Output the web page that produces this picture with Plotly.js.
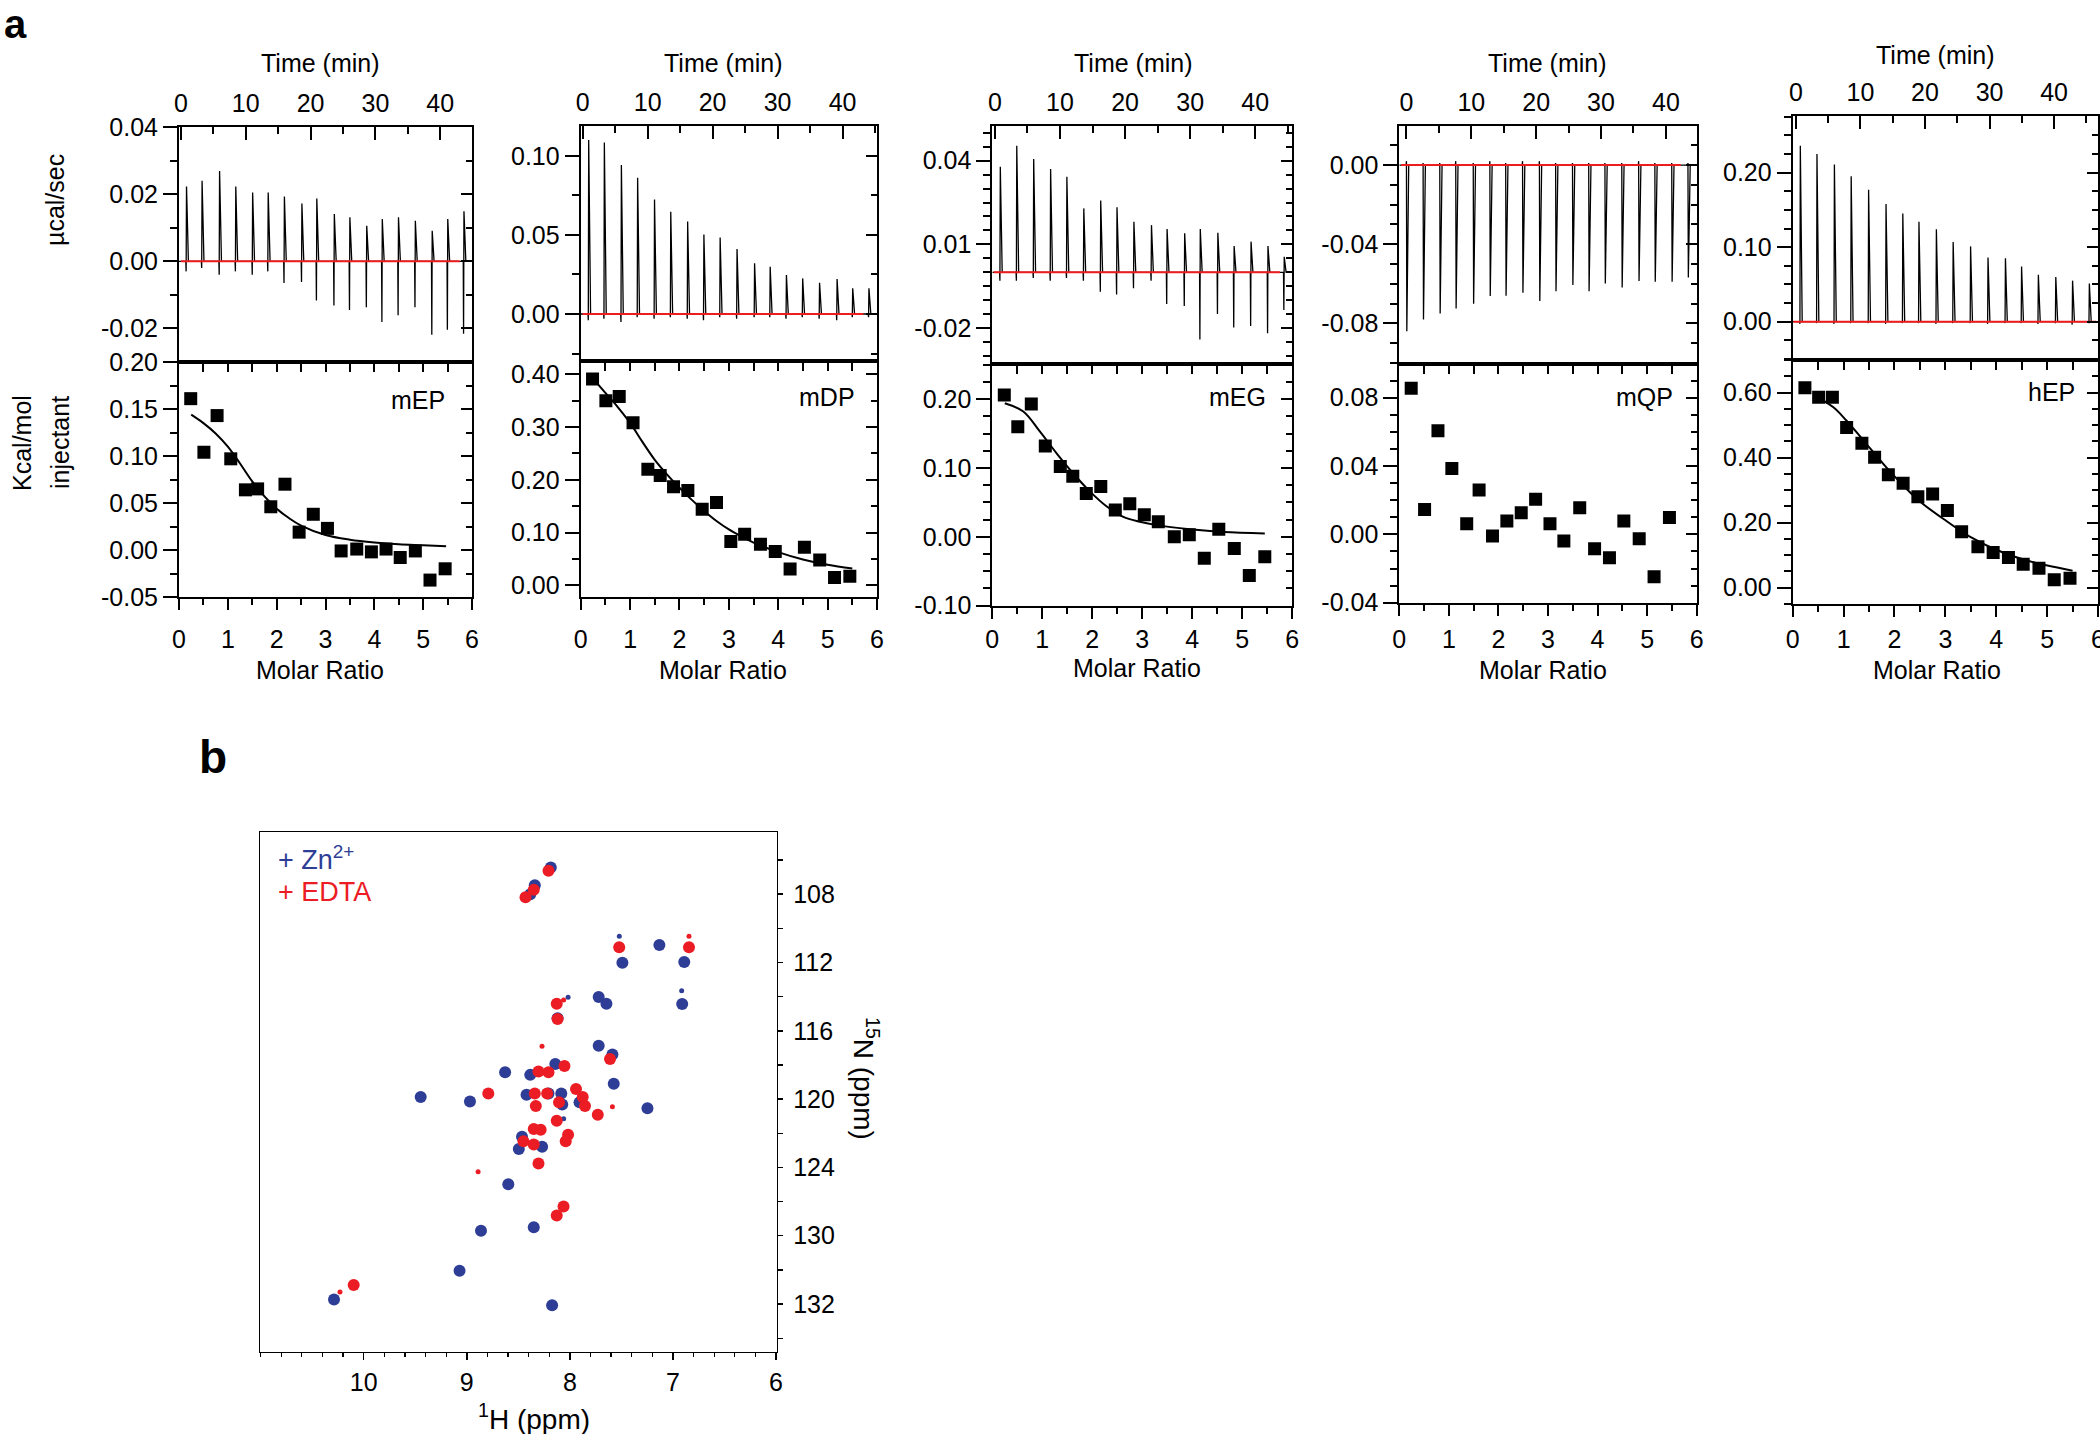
<!DOCTYPE html>
<html><head><meta charset="utf-8">
<script src="https://cdn.plot.ly/plotly-3.0.1.min.js"></script>
<style>html,body{margin:0;padding:0;background:#fff}#chart{width:2100px;height:1434px}</style>
</head><body><div id="chart"></div>
<script>
// ================= DATA =================
const molarRatio = [0.24,0.51,0.78,1.06,1.36,1.61,1.88,2.17,2.46,2.75,3.04,3.32,3.64,3.94,4.24,4.53,4.84,5.14,5.45];

// mEP
const mEP_time = [0.8,3.2,5.9,8.4,11.0,13.4,15.9,18.6,20.9,23.6,26.0,28.6,31.0,33.5,36.1,38.7,41.1,43.6];
const mEP_peak = [0.0223,0.0240,0.0269,0.0223,0.0205,0.0205,0.0193,0.0172,0.0187,0.0141,0.0131,0.0106,0.0126,0.0131,0.0121,0.0091,0.0126,0.0149];
const mEP_dip  = [-0.003,-0.002,-0.004,-0.003,-0.004,-0.003,-0.0065,-0.0062,-0.0117,-0.0132,-0.0145,-0.0137,-0.0181,-0.0161,-0.0137,-0.0219,-0.0204,-0.0216];
const mEP_base = [0, 43.0];
const mEP_heat = [0.161,0.104,0.143,0.097,0.064,0.065,0.046,0.070,0.019,0.038,0.023,-0.001,0.001,-0.002,0.001,-0.008,-0.001,-0.032,-0.020];
const mEP_fitX = [0.25,0.5,0.75,1.0,1.25,1.5,1.75,2.0,2.25,2.5,3.0,3.5,4.0,4.5,5.0,5.47];
const mEP_fitY = [0.144,0.135,0.124,0.110,0.092,0.073,0.057,0.044,0.034,0.026,0.016,0.011,0.008,0.006,0.005,0.004];

// mDP
const mDP_time = [0.87,3.28,5.9,8.4,11.0,13.5,16.1,18.6,21.1,23.7,26.4,28.8,31.3,33.8,36.4,39.1,41.5,44.0];
const mDP_peak = [0.1099,0.1084,0.0941,0.0861,0.0724,0.0646,0.0584,0.0503,0.0484,0.0411,0.032,0.0299,0.0246,0.0225,0.0198,0.0221,0.0162,0.0162];
const mDP_dip  = [-0.004,-0.003,-0.005,-0.002,-0.003,-0.002,-0.003,-0.004,-0.002,-0.003,-0.002,-0.002,-0.003,-0.002,-0.003,-0.004,-0.002,-0.002];
const mDP_base = [0, 43.2];
const mDP_heat = [0.391,0.350,0.358,0.308,0.220,0.208,0.187,0.180,0.144,0.157,0.083,0.097,0.078,0.064,0.031,0.072,0.048,0.015,0.017];
const mDP_fitX = [0.25,0.5,0.75,1.0,1.25,1.5,1.75,2.0,2.25,2.5,2.75,3.0,3.25,3.5,4.0,4.5,5.0,5.5];
const mDP_fitY = [0.392,0.365,0.338,0.308,0.272,0.238,0.210,0.185,0.162,0.141,0.122,0.106,0.093,0.081,0.063,0.049,0.039,0.032];

// mEG
const mEG_time = [0.77,3.3,5.9,8.5,11.0,13.6,16.2,18.7,21.3,24.0,26.4,29.1,31.5,34.2,36.7,39.3,41.9,44.4];
const mEG_peak = [0.0378,0.0453,0.0406,0.037,0.0342,0.0229,0.0257,0.0233,0.0181,0.0169,0.0155,0.014,0.0155,0.0142,0.0094,0.011,0.0094,0.0056];
const mEG_dip  = [-0.003,-0.003,-0.002,-0.003,-0.002,-0.003,-0.0069,-0.0079,-0.0057,-0.003,-0.0113,-0.012,-0.024,-0.0149,-0.0197,-0.0192,-0.0218,-0.0135];
const mEG_base = [-0.2, 43.8];
const mEG_heat = [0.206,0.160,0.193,0.132,0.102,0.088,0.063,0.073,0.039,0.048,0.032,0.022,0.000,0.003,-0.031,0.011,-0.017,-0.056,-0.029];
const mEG_fitX = [0.25,0.62,0.95,1.29,1.62,1.95,2.29,2.62,2.95,3.29,3.95,4.62,5.45];
const mEG_fitY = [0.194,0.182,0.153,0.121,0.092,0.066,0.044,0.029,0.022,0.017,0.011,0.007,0.005];

// mQP
const mQP_time = [0,2.57,5.14,7.6,10.3,12.86,15.3,17.9,20.5,23.0,25.6,28.1,30.6,33.2,35.8,38.3,40.9,43.4];
const mQP_peak = [-0.0839,-0.078,-0.075,-0.0724,-0.070,-0.0662,-0.066,-0.0645,-0.0687,-0.0637,-0.0606,-0.0637,-0.0598,-0.0618,-0.0586,-0.059,-0.059,-0.0568];
const mQP_dip  = [0.002,0.001,0.001,0.002,0.001,0.002,0.001,0.002,0.002,0.001,0.001,0.001,0.001,0.001,0.002,0.001,0.001,0.001];
const mQP_base = [-0.8, 42.3];
const mQP_heat = [0.0855,0.0146,0.0607,0.0386,0.0062,0.026,-0.001,0.0078,0.0127,0.0205,0.0062,-0.0039,0.0156,-0.0084,-0.0137,0.0078,-0.0025,-0.0248,0.0098];

// hEP
const hEP_time = [0.62,3.2,5.9,8.5,11.2,13.9,16.5,19.0,21.7,24.3,27.0,29.7,32.4,34.9,37.5,40.2,42.8,45.4];
const hEP_peak = [0.236,0.225,0.211,0.195,0.177,0.158,0.145,0.134,0.124,0.107,0.101,0.086,0.085,0.074,0.063,0.060,0.055,0.051];
const hEP_dip  = [-0.003,-0.002,-0.003,-0.002,-0.002,-0.003,-0.002,-0.002,-0.003,-0.002,-0.002,-0.003,-0.002,-0.002,-0.003,-0.002,-0.004,-0.002];
const hEP_base = [-0.4, 46.5];
const hEP_heat = [0.615,0.586,0.586,0.493,0.444,0.401,0.347,0.321,0.280,0.288,0.237,0.172,0.126,0.108,0.093,0.072,0.0595,0.024,0.029];
const hEP_fitX = [0.5,0.8,1.05,1.38,1.84,2.2,2.5,3.02,3.48,4.13,4.78,5.2,5.5];
const hEP_fitY = [0.585,0.555,0.515,0.455,0.37,0.31,0.265,0.205,0.157,0.108,0.076,0.062,0.052];

// tick labels
const timeTickVals = [0,10,20,30,40];
const timeTickText = ['0','10','20','30','40'];
const molarTickVals = [0,1,2,3,4,5,6];
const molarTickText = ['0','1','2','3','4','5','6'];
const mEP_topVals = [-0.02,0,0.02,0.04], mEP_topText = ['-0.02','0.00','0.02','0.04'];
const mDP_topVals = [0,0.05,0.10], mDP_topText = ['0.00','0.05','0.10'];
const mEG_topVals = [-0.02,0.01,0.04], mEG_topText = ['-0.02','0.01','0.04'];
const mQP_topVals = [-0.08,-0.04,0], mQP_topText = ['-0.08','-0.04','0.00'];
const hEP_topVals = [0,0.10,0.20], hEP_topText = ['0.00','0.10','0.20'];
const mEP_botVals = [-0.05,0,0.05,0.10,0.15,0.20], mEP_botText = ['-0.05','0.00','0.05','0.10','0.15','0.20'];
const mDP_botVals = [0,0.1,0.2,0.3,0.4], mDP_botText = ['0.00','0.10','0.20','0.30','0.40'];
const mEG_botVals = [-0.1,0,0.1,0.2], mEG_botText = ['-0.10','0.00','0.10','0.20'];
const mQP_botVals = [-0.04,0,0.04,0.08], mQP_botText = ['-0.04','0.00','0.04','0.08'];
const hEP_botVals = [0,0.2,0.4,0.6], hEP_botText = ['0.00','0.20','0.40','0.60'];

// NMR (b)
const blueH = [8.185,8.34,8.384,7.131,7.49,6.89,7.72,7.645,6.91,8.119,7.72,7.587,8.141,8.628,8.384,7.574,9.447,8.969,8.42,8.207,8.083,8.074,7.906,7.247,8.464,8.495,8.269,8.597,8.862,8.35,9.07,10.288,8.172];
const blueN = [106.44,107.48,108.0,110.98,112.02,111.97,114.02,114.41,114.43,115.26,116.87,117.39,117.94,118.43,118.58,119.1,119.88,120.14,119.75,119.67,119.67,120.32,120.19,120.53,122.21,122.92,122.79,124.99,127.71,127.5,130.05,131.73,132.07];
const blueSmallH = [6.915,8.14,8.06,8.017,7.52];
const blueSmallN = [113.65,121.1,121.15,114.04,110.46];
const redH = [8.207,8.35,8.43,7.521,6.844,8.127,8.119,7.61,8.052,8.207,8.304,8.791,8.34,8.22,7.94,7.875,7.853,8.105,8.33,7.729,8.127,8.35,8.283,8.017,8.04,8.45,8.35,8.304,8.061,8.127,10.097];
const redN = [106.63,107.74,108.18,111.11,111.11,114.41,115.31,117.65,118.06,118.43,118.38,119.67,119.67,119.67,119.41,119.88,120.4,120.19,120.4,120.92,121.27,121.75,121.8,122.09,122.47,122.47,122.66,123.77,126.29,126.81,130.88];
const redSmallH = [6.844,10.23,8.89,8.27,7.587,8.06];
const redSmallN = [110.46,131.3,124.26,116.9,120.45,114.2];
const hTickVals = [10,9,8,7,6], hTickText = ['10','9','8','7','6'];
const nTickVals = [108,112,116,120,124,128,132], nTickText = ['108','112','116','120','124','130','132'];

// ================= LAYOUT / DRAWING =================
const W = 2100, H = 1434;
const FONT = 'Liberation Sans, Arial, sans-serif';
const px = v => v / W, py = v => 1 - v / H;
function seq(a, b, s) { const o = []; for (let v = a; v <= b + 1e-9; v += s) o.push(+v.toFixed(6)); return o; }

const panels = [
  {name:'mEP', fx:[179,472], ty:[127,362], by:[362,597], tRange:[-0.3,44.9], topRange:[-0.030,0.040], botRange:[-0.05,0.20],
   topVals:mEP_topVals, topText:mEP_topText, topMinor:seq(-0.03,0.04,0.01), botVals:mEP_botVals, botText:mEP_botText, botMinor:seq(-0.05,0.2,0.025),
   time:mEP_time, peak:mEP_peak, dip:mEP_dip, base:mEP_base, heat:mEP_heat, fitX:mEP_fitX, fitY:mEP_fitY,
   timeTitle:[320,63], molarTitle:[320,670], label:[447,400]},
  {name:'mDP', fx:[580.7,877], ty:[125.7,361], by:[361,597.3], tRange:[-0.3,45.3], topRange:[-0.0297,0.119], botRange:[-0.0227,0.4253],
   topVals:mDP_topVals, topText:mDP_topText, topMinor:seq(-0.025,0.1,0.025), botVals:mDP_botVals, botText:mDP_botText, botMinor:seq(0,0.4,0.05),
   time:mDP_time, peak:mDP_peak, dip:mDP_dip, base:mDP_base, heat:mDP_heat, fitX:mDP_fitX, fitY:mDP_fitY,
   timeTitle:[723,63], molarTitle:[723,670], label:[857,397]},
  {name:'mEG', fx:[992.3,1292.3], ty:[125.7,364], by:[364,605.7], tRange:[-0.4,45.7], topRange:[-0.0328,0.0525], botRange:[-0.10,0.251],
   topVals:mEG_topVals, topText:mEG_topText, topMinor:seq(-0.03,0.05,0.005), botVals:mEG_botVals, botText:mEG_botText, botMinor:seq(-0.1,0.25,0.025),
   time:mEG_time, peak:mEG_peak, dip:mEG_dip, base:mEG_base, heat:mEG_heat, fitX:mEG_fitX, fitY:mEG_fitY,
   timeTitle:[1133,63], molarTitle:[1137,668], label:[1268,397]},
  {name:'mQP', fx:[1399.3,1696.7], ty:[125.7,364], by:[364,602.7], tRange:[-1.1,44.75], topRange:[-0.1005,0.0199], botRange:[-0.04,0.0997],
   topVals:mQP_topVals, topText:mQP_topText, topMinor:seq(-0.1,0.02,0.01), botVals:mQP_botVals, botText:mQP_botText, botMinor:seq(-0.04,0.09,0.01),
   time:mQP_time, peak:mQP_peak, dip:mQP_dip, base:mQP_base, heat:mQP_heat, fitX:null, fitY:null,
   timeTitle:[1547,63], molarTitle:[1543,670], label:[1675,397]},
  {name:'hEP', fx:[1792.7,2098], ty:[116,360], by:[360,604.3], tRange:[-0.5,46.8], topRange:[-0.0515,0.276], botRange:[-0.0513,0.7005],
   topVals:hEP_topVals, topText:hEP_topText, topMinor:seq(-0.05,0.275,0.025), botVals:hEP_botVals, botText:hEP_botText, botMinor:seq(-0.05,0.7,0.05),
   time:hEP_time, peak:hEP_peak, dip:hEP_dip, base:hEP_base, heat:hEP_heat, fitX:hEP_fitX, fitY:hEP_fitY,
   timeTitle:[1935,55], molarTitle:[1937,670], label:[2077,392]}
];

const layout = {width:W, height:H, margin:{l:0,r:0,t:0,b:0}, paper_bgcolor:'#fff', plot_bgcolor:'rgba(0,0,0,0)',
  showlegend:false, font:{family:FONT, size:25, color:'#000'}, annotations:[]};
const data = [];
const xid = n => n === 1 ? 'x' : 'x' + n, yid = n => n === 1 ? 'y' : 'y' + n;
const xk = n => n === 1 ? 'xaxis' : 'xaxis' + n, yk = n => n === 1 ? 'yaxis' : 'yaxis' + n;
const tf = {family:FONT, size:25, color:'#000'};
const base = {showgrid:false, zeroline:false, showline:true, linecolor:'#000', linewidth:2, tickcolor:'#000', tickwidth:2, tickfont:tf,
  fixedrange:true, ticklabeloverflow:'allow'};
const minorOf = (vals, ticks, len) => ({tickmode:'array', tickvals:vals, ticks:ticks, ticklen:len, tickwidth:2, tickcolor:'#000', showgrid:false});
const dummy = (xa, ya) => ({type:'scatter', mode:'markers', x:[null], y:[null], xaxis:xa, yaxis:ya, hoverinfo:'skip', showlegend:false});
function ann(text, x, y, o) { layout.annotations.push(Object.assign({text, x:px(x), y:py(y), xref:'paper', yref:'paper', showarrow:false, xanchor:'center', yanchor:'middle', font:{family:FONT, size:25, color:'#000'}}, o || {})); }

function thermo(time, peak, dip, x0, x1) {
  const xs = [x0], ys = [0];
  for (let i = 0; i < time.length; i++) {
    const t = time[i];
    xs.push(t - 0.05, t, t + 0.06, t + 0.35);
    ys.push(0, dip[i], peak[i], 0);
  }
  xs.push(x1); ys.push(0);
  return {xs, ys};
}

let nx = 0, ny = 0;
panels.forEach(p => {
  const ixT = ++nx, iyT = ++ny, iyTR = ++ny, ixB = ++nx, iyB = ++ny, iyBR = ++ny, ixBT = ++nx;
  const xdom = [px(p.fx[0]), px(p.fx[1])];
  // top (thermogram)
  layout[xk(ixT)] = Object.assign({}, base, {domain:xdom, range:p.tRange, anchor:yid(iyT), side:'top', mirror:true,
    ticks:'inside', ticklen:13, tickmode:'array', tickvals:timeTickVals, ticktext:timeTickText, ticklabelstandoff:3,
    minor:minorOf(seq(0,45,5),'inside',7)});
  layout[yk(iyT)] = Object.assign({}, base, {domain:[py(p.ty[1]), py(p.ty[0])], range:p.topRange, anchor:xid(ixT), side:'left', mirror:true,
    ticks:'outside', ticklen:14, tickmode:'array', tickvals:p.topVals, ticktext:p.topText, minor:minorOf(p.topMinor,'outside',7)});
  layout[yk(iyTR)] = Object.assign({}, base, {showline:false, overlaying:yid(iyT), anchor:xid(ixT), side:'right', range:p.topRange,
    ticks:'inside', ticklen:11, showticklabels:false, tickmode:'array', tickvals:p.topVals, minor:minorOf(p.topMinor,'inside',6)});
  // bottom (isotherm)
  layout[xk(ixB)] = Object.assign({}, base, {domain:xdom, range:[0,6], anchor:yid(iyB), side:'bottom', mirror:true,
    ticks:'outside', ticklen:11, tickmode:'array', tickvals:molarTickVals, ticktext:molarTickText,
    ticklabelstandoff:Math.round(605 - p.by[1]), minor:minorOf(seq(0,6,0.5),'outside',6)});
  layout[yk(iyB)] = Object.assign({}, base, {domain:[py(p.by[1]), py(p.by[0])], range:p.botRange, anchor:xid(ixB), side:'left', mirror:true,
    ticks:'outside', ticklen:14, tickmode:'array', tickvals:p.botVals, ticktext:p.botText, minor:minorOf(p.botMinor,'outside',7)});
  layout[yk(iyBR)] = Object.assign({}, base, {showline:false, overlaying:yid(iyB), anchor:xid(ixB), side:'right', range:p.botRange,
    ticks:'inside', ticklen:11, showticklabels:false, tickmode:'array', tickvals:p.botVals, minor:minorOf(p.botMinor,'inside',6)});
  layout[xk(ixBT)] = Object.assign({}, base, {showline:false, overlaying:xid(ixB), anchor:yid(iyB), side:'top', range:[0,6],
    ticks:'inside', ticklen:10, showticklabels:false, tickmode:'array', tickvals:molarTickVals, minor:minorOf(seq(0,6,0.5),'inside',10)});

  const th = thermo(p.time, p.peak, p.dip, p.tRange[0], p.tRange[1]);
  data.push({type:'scatter', mode:'lines', x:th.xs, y:th.ys, xaxis:xid(ixT), yaxis:yid(iyT), line:{color:'#000', width:1.3}, hoverinfo:'skip'});
  data.push({type:'scatter', mode:'lines', x:p.base, y:p.base.map(() => 0), xaxis:xid(ixT), yaxis:yid(iyT), line:{color:'#ee1c1c', width:2}, hoverinfo:'skip'});
  data.push(dummy(xid(ixT), yid(iyTR)));
  if (p.fitX) data.push({type:'scatter', mode:'lines', x:p.fitX, y:p.fitY, xaxis:xid(ixB), yaxis:yid(iyB), line:{color:'#000', width:2, shape:'spline'}, hoverinfo:'skip'});
  data.push({type:'scatter', mode:'markers', x:molarRatio, y:p.heat, xaxis:xid(ixB), yaxis:yid(iyB), marker:{symbol:'square', size:13, color:'#000'}, hoverinfo:'skip'});
  data.push(dummy(xid(ixB), yid(iyBR)));
  data.push(dummy(xid(ixBT), yid(iyB)));

  ann('Time (min)', p.timeTitle[0], p.timeTitle[1]);
  ann('Molar Ratio', p.molarTitle[0], p.molarTitle[1]);
  ann(p.name, p.label[0], p.label[1], {xanchor:'right'});
});

// axis titles on the left
ann('µcal/sec', 55, 200, {textangle:-90});
ann('Kcal/mol', 22, 443, {textangle:-90});
ann('injectant', 60, 443, {textangle:-90});
ann('<b>a</b>', 2, 0, {xanchor:'left', yanchor:'top', font:{family:FONT, size:40, color:'#000'}});
ann('<b>b</b>', 197, 757, {xanchor:'left', font:{family:FONT, size:46, color:'#000'}});

// NMR panel
const ixN = ++nx, iyN = ++ny;
const tfN = {family:FONT, size:25, color:'#000'};
layout[xk(ixN)] = Object.assign({}, base, {domain:[px(260), px(776.7)], range:[11.006,5.993], anchor:yid(iyN), side:'bottom', mirror:true,
  linewidth:1.5, tickwidth:1.5, ticks:'outside', ticklen:7, tickmode:'array', tickvals:hTickVals, ticktext:hTickText, tickfont:tfN,
  ticklabelstandoff:1, minor:{tickmode:'array', tickvals:seq(6,11,0.2), ticks:'outside', ticklen:4, tickwidth:1.2, tickcolor:'#000'}});
layout[yk(iyN)] = Object.assign({}, base, {domain:[py(1351.7), py(832.2)], range:[134.79,104.37], anchor:xid(ixN), side:'right', mirror:true,
  linewidth:1.5, tickwidth:1.5, ticks:'outside', ticklen:5, tickmode:'array', tickvals:nTickVals, ticktext:nTickText, tickfont:tfN,
  ticklabelstandoff:5, minor:{tickmode:'array', tickvals:seq(104,134,2), ticks:'outside', ticklen:5, tickwidth:1.2, tickcolor:'#000'}});
const BLUE = '#2e3d96', RED = '#ec1c24';
data.push({type:'scatter', mode:'markers', x:blueH, y:blueN, xaxis:xid(ixN), yaxis:yid(iyN), marker:{symbol:'circle', size:12, color:BLUE}, hoverinfo:'skip'});
data.push({type:'scatter', mode:'markers', x:blueSmallH, y:blueSmallN, xaxis:xid(ixN), yaxis:yid(iyN), marker:{symbol:'circle', size:5, color:BLUE}, hoverinfo:'skip'});
data.push({type:'scatter', mode:'markers', x:redH, y:redN, xaxis:xid(ixN), yaxis:yid(iyN), marker:{symbol:'circle', size:12, color:RED}, hoverinfo:'skip'});
data.push({type:'scatter', mode:'markers', x:redSmallH, y:redSmallN, xaxis:xid(ixN), yaxis:yid(iyN), marker:{symbol:'circle', size:5, color:RED}, hoverinfo:'skip'});
ann('+ Zn<sup>2+</sup>', 276, 858, {xanchor:'left', font:{family:FONT, size:27, color:BLUE}});
ann('+ EDTA', 276, 892, {xanchor:'left', font:{family:FONT, size:27, color:RED}});
ann('<sup>1</sup>H (ppm)', 534, 1417, {font:{family:FONT, size:28, color:'#000'}});
ann('<sup>15</sup>N (ppm)', 866, 1078, {textangle:90, font:{family:FONT, size:28, color:'#000'}});

Plotly.newPlot('chart', data, layout, {staticPlot:true, displayModeBar:false});
</script>
</body></html>
